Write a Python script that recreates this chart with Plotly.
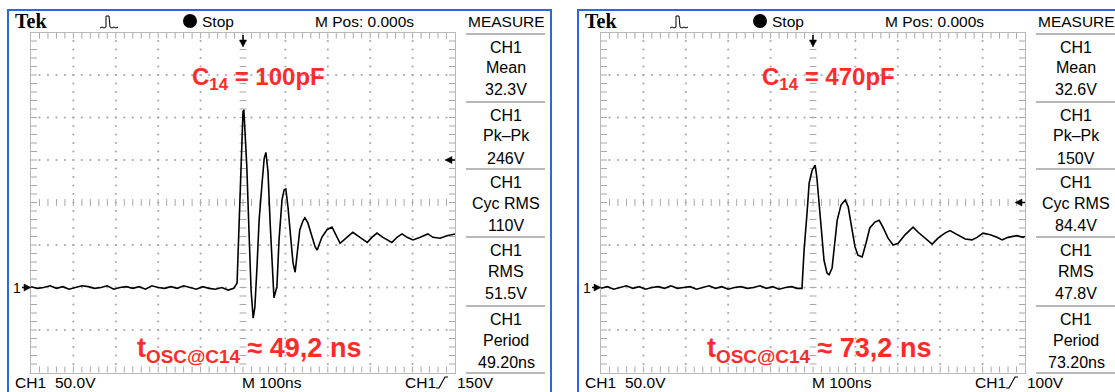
import plotly.graph_objects as go

# ---------------------------------------------------------------- data
# Time in ns (trigger at 0), voltage in V (CH1, 50 V/div, 100 ns/div)
LEFT_T = [-500, -485, -470, -455, -440, -425, -410, -395, -380, -365, -350, -335,
          -320, -305, -290, -275, -260, -245, -230, -215, -200, -185, -170, -155,
          -140, -125, -110, -95, -80, -65, -50, -35, -22,
          -14, -12, -7, -2, 0, 2, 9, 14, 19, 24, 28, 33, 38, 45, 50, 54, 59, 64, 68,
          73, 80, 85, 92, 97, 101, 106, 113, 118, 123, 127, 134, 142, 146, 153, 163,
          170, 175, 186, 198, 210, 222, 229, 245, 259, 276, 293, 304, 316, 330, 351,
          363, 375, 387, 401, 418, 436, 448, 465, 481, 500]
LEFT_V = [1, -1, 0, 2, -1, 1, -2, 0, 2, 1, -1, 0,
          2, -2, 0, 1, -1, 1, -2, 2, 0, -1, 1, -1,
          2, 0, -2, 1, -1, -2, 0, -3, -1,
          5, 36, 97, 165, 207, 209, 142, 68, -3, -36, -23, 24, 79, 123, 152, 159, 136, 76, 29,
          -12, 1, 56, 103, 115, 116, 95, 56, 29, 18, 36, 68, 79, 82, 76, 59,
          48, 44, 59, 68, 71, 59, 52, 59, 65, 59, 53, 59, 64, 59, 53,
          59, 63, 59, 56, 59, 63, 59, 58, 61, 63]

RIGHT_T = [-500, -485, -470, -455, -440, -425, -410, -395, -380, -365, -350, -335,
           -320, -305, -290, -275, -260, -245, -230, -215, -200, -185, -170, -155,
           -140, -125, -110, -95, -80, -65, -50, -38, -26,
           -21, -14, -9, -2, 5, 9, 14, 21, 26, 33, 38, 45, 50, 57, 66, 76, 83, 92,
           99, 106, 116, 125, 134, 146, 156, 165, 177, 189, 201, 217, 236, 248, 264,
           281, 295, 311, 323, 340, 359, 375, 387, 401, 418, 434, 446, 460, 481, 495, 500]
RIGHT_V = [-1, 1, -2, 0, 2, -1, 1, -2, 0, 1, -1, 2,
           -1, 0, 1, -2, 0, 2, -1, 1, -2, 0, 1, -1,
           0, 2, -1, 1, -2, 0, 1, -1, -1,
           44, 88, 123, 138, 144, 130, 103, 59, 32, 17, 15, 23, 48, 79, 97, 103, 95, 71,
           48, 38, 36, 52, 70, 77, 79, 71, 58, 50, 52, 62, 71, 65, 58,
           51, 58, 64, 67, 62, 57, 56, 59, 64, 62, 59, 56, 59, 61, 59, 60]

LEFT_MEASURE = [("CH1", "Mean", "32.3V"), ("CH1", "Pk\u2013Pk", "246V"),
                ("CH1", "Cyc RMS", "110V"), ("CH1", "RMS", "51.5V"),
                ("CH1", "Period", "49.20ns")]
RIGHT_MEASURE = [("CH1", "Mean", "32.6V"), ("CH1", "Pk\u2013Pk", "150V"),
                 ("CH1", "Cyc RMS", "84.4V"), ("CH1", "RMS", "47.8V"),
                 ("CH1", "Period", "73.20ns")]

LEFT_CAP = "100pF"
RIGHT_CAP = "470pF"
LEFT_TOSC = "49,2 ns"
RIGHT_TOSC = "73,2 ns"
LEFT_TRIG_V = 150
RIGHT_TRIG_V = 100
GROUND_V = 0
VOLTS_PER_DIV = "50.0V"
TIME_PER_DIV = "M 100ns"

# ---------------------------------------------------------------- geometry
W, H = 1115, 392
PANEL_DX = 570                 # horizontal offset of the second screen
GX0, GX1 = 31, 455             # graticule left / right (px)
GY0, GY1 = 32.5, 372.5         # graticule top / bottom (px)
V_MIN, V_MAX = -100, 300
PX_PER_NS = (GX1 - GX0) / 1000.0
PX_PER_V = (GY1 - GY0) / (V_MAX - V_MIN)

GRID = "#a8a8a8"
FRAME = "#b8b8b8"
BLUE = "#2a6ad8"
RED = "#ff2a2a"
UI_FONT = "Liberation Sans, Arial, sans-serif"


def px(x):
    return x / W


def py(y):
    return 1 - y / H


def v_to_py(v):
    return GY1 - (v - V_MIN) * PX_PER_V


fig = go.Figure()
annotations = []
shapes = []


def text(x, y, s, size=16, color="black", anchor="center", family=UI_FONT, vanchor="middle"):
    annotations.append(dict(x=px(x), y=py(y), xref="paper", yref="paper", text=s,
                            showarrow=False, xanchor=anchor, yanchor=vanchor,
                            font=dict(family=family, size=size, color=color)))


def path(points, xref="paper", yref="paper", fill=None, width=1.2):
    d = "M " + " L ".join(f"{a},{b}" for a, b in points)
    if fill:
        d += " Z"
    shapes.append(dict(type="path", xref=xref, yref=yref, path=d,
                       fillcolor=fill, line=dict(color="black", width=width)))


def graticule(xa, ya):
    # dotted division lines
    dx, dy = [], []
    for t in range(-400, 401, 100):
        if t == 0:
            continue
        for v in range(-90, 300, 10):
            dx.append(t)
            dy.append(v)
    for v in range(-50, 300, 50):
        if v == 100:
            continue
        for t in range(-480, 500, 20):
            dx.append(t)
            dy.append(v)
    fig.add_trace(go.Scatter(x=dx, y=dy, xaxis=xa, yaxis=ya, mode="markers",
                             marker=dict(size=2.2, color=GRID), hoverinfo="skip"))
    # tick marks on centre lines and frame
    tick_len = 5
    vx, vy = [], []
    for t in range(-480, 500, 20):
        vx += [t, t, t]
        vy += [100, 300 - tick_len / 2 / PX_PER_V, -100 + tick_len / 2 / PX_PER_V]
    hx, hy = [], []
    for v in range(-90, 300, 10):
        hx += [0, -500 + tick_len / 2 / PX_PER_NS, 500 - tick_len / 2 / PX_PER_NS]
        hy += [v, v, v]
    fig.add_trace(go.Scatter(x=vx, y=vy, xaxis=xa, yaxis=ya, mode="markers",
                             marker=dict(symbol="line-ns", size=tick_len,
                                         line=dict(width=1, color=GRID)), hoverinfo="skip"))
    fig.add_trace(go.Scatter(x=hx, y=hy, xaxis=xa, yaxis=ya, mode="markers",
                             marker=dict(symbol="line-ew", size=tick_len,
                                         line=dict(width=1, color=GRID)), hoverinfo="skip"))


def panel(dx, xa, ya, t, v, measures, cap, tosc, trig_v):
    graticule(xa, ya)
    fig.add_trace(go.Scatter(x=t, y=v, xaxis=xa, yaxis=ya, mode="lines",
                             line=dict(color="black", width=1.6), hoverinfo="skip"))

    # blue screen border
    shapes.append(dict(type="rect", xref="paper", yref="paper",
                       x0=px(dx + 8), x1=px(dx + 551), y0=py(400), y1=py(10),
                       line=dict(color=BLUE, width=2)))

    # header
    text(dx + 13, 21, "<b>Tek</b>", size=20, anchor="left",
         family="Liberation Serif, Times New Roman, serif")
    path([(px(dx + 100), py(28)), (px(dx + 102), py(27)), (px(dx + 104), py(28)),
          (px(dx + 106), py(27)), (px(dx + 106), py(16)), (px(dx + 109), py(16)),
          (px(dx + 110), py(27)), (px(dx + 112), py(28)), (px(dx + 114), py(27)),
          (px(dx + 116), py(28)), (px(dx + 118), py(27))], width=1)
    shapes.append(dict(type="circle", xref="paper", yref="paper",
                       x0=px(dx + 183), x1=px(dx + 197), y0=py(28), y1=py(14),
                       fillcolor="black", line=dict(color="black", width=0)))
    text(dx + 200, 21, "Stop", anchor="left", size=15.5)
    text(dx + 364, 21, "M Pos: 0.000s", size=15.5)
    text(dx + 506, 21, "MEASURE", size=15.5)

    # measurement boxes
    seps = [34, 102, 169, 237, 306, 373]
    for y in seps:
        shapes.append(dict(type="line", xref="paper", yref="paper",
                           x0=px(dx + 466), x1=px(dx + 545), y0=py(y), y1=py(y),
                           line=dict(color="#a0a0a0", width=1.5)))
    for y, (a, b, c) in zip(seps, measures):
        text(dx + 506, y + 13, a)
        text(dx + 506, y + 34, b)
        text(dx + 506, y + 56, c)

    # bottom status line
    text(dx + 13, 382, "CH1", anchor="left", size=15.5)
    text(dx + 53, 382, VOLTS_PER_DIV, anchor="left", size=15.5)
    text(dx + 240, 382, TIME_PER_DIV, anchor="left", size=15.5)
    text(dx + 403, 382, "CH1", anchor="left", size=15.5)
    path([(px(dx + 436), py(388)), (px(dx + 439), py(388)),
          (px(dx + 445), py(377)), (px(dx + 448), py(377))])
    text(dx + 455, 382, f"{trig_v}V", anchor="left", size=15.5)

    # trigger position marker (top, at t = 0)
    hw = 3.5 / PX_PER_NS
    path([(0, py(35)), (0, py(41))], xref=xa, width=1.5)
    path([(-hw, py(40)), (hw, py(40)), (0, py(47))], xref=xa, fill="black", width=0.5)
    # trigger level marker (right edge)
    hh = 3.5 / PX_PER_V
    x_tip = 500 - 10 / PX_PER_NS
    path([(x_tip + 6 / PX_PER_NS, trig_v), (500 + 2 / PX_PER_NS, trig_v)],
         xref=xa, yref=ya, width=1.5)
    path([(x_tip, trig_v), (x_tip + 7 / PX_PER_NS, trig_v + hh),
          (x_tip + 7 / PX_PER_NS, trig_v - hh)], xref=xa, yref=ya, fill="black", width=0.5)
    # ground reference marker (left of the graticule, at 0 V)
    gy = v_to_py(GROUND_V)
    gx = dx + GX0
    path([(px(gx - 9), py(gy)), (px(gx - 5), py(gy))], width=1.5)
    path([(px(gx), py(gy)), (px(gx - 7), py(gy - 3.5)), (px(gx - 7), py(gy + 3.5))],
         fill="black", width=0.5)
    text(dx + 17, gy, "1", size=14)

    # red annotations
    text(dx + 258, 78, f"<b>C<sub>14</sub> = {cap}</b>", size=24, color=RED)
    text(dx + 135, 350, f"<b>t<sub>OSC@C14</sub> \u2248 {tosc}</b>", size=27,
         color=RED, anchor="left")


panel(0, "x", "y", LEFT_T, LEFT_V, LEFT_MEASURE, LEFT_CAP, LEFT_TOSC, LEFT_TRIG_V)
panel(PANEL_DX, "x2", "y2", RIGHT_T, RIGHT_V, RIGHT_MEASURE, RIGHT_CAP, RIGHT_TOSC, RIGHT_TRIG_V)

axis_common = dict(showgrid=False, zeroline=False, showticklabels=False, ticks="",
                   showline=True, mirror=True, linecolor=FRAME, linewidth=1,
                   fixedrange=True)
ydom = [py(GY1), py(GY0)]
fig.update_layout(
    width=W, height=H, margin=dict(l=0, r=0, t=0, b=0),
    paper_bgcolor="white", plot_bgcolor="white", showlegend=False,
    xaxis=dict(domain=[px(GX0), px(GX1)], range=[-500, 500], anchor="y", **axis_common),
    yaxis=dict(domain=ydom, range=[V_MIN, V_MAX], anchor="x", **axis_common),
    xaxis2=dict(domain=[px(GX0 + PANEL_DX), px(GX1 + PANEL_DX)], range=[-500, 500],
                anchor="y2", **axis_common),
    yaxis2=dict(domain=ydom, range=[V_MIN, V_MAX], anchor="x2", **axis_common),
    annotations=annotations, shapes=shapes,
)

fig.write_html("out.html")
